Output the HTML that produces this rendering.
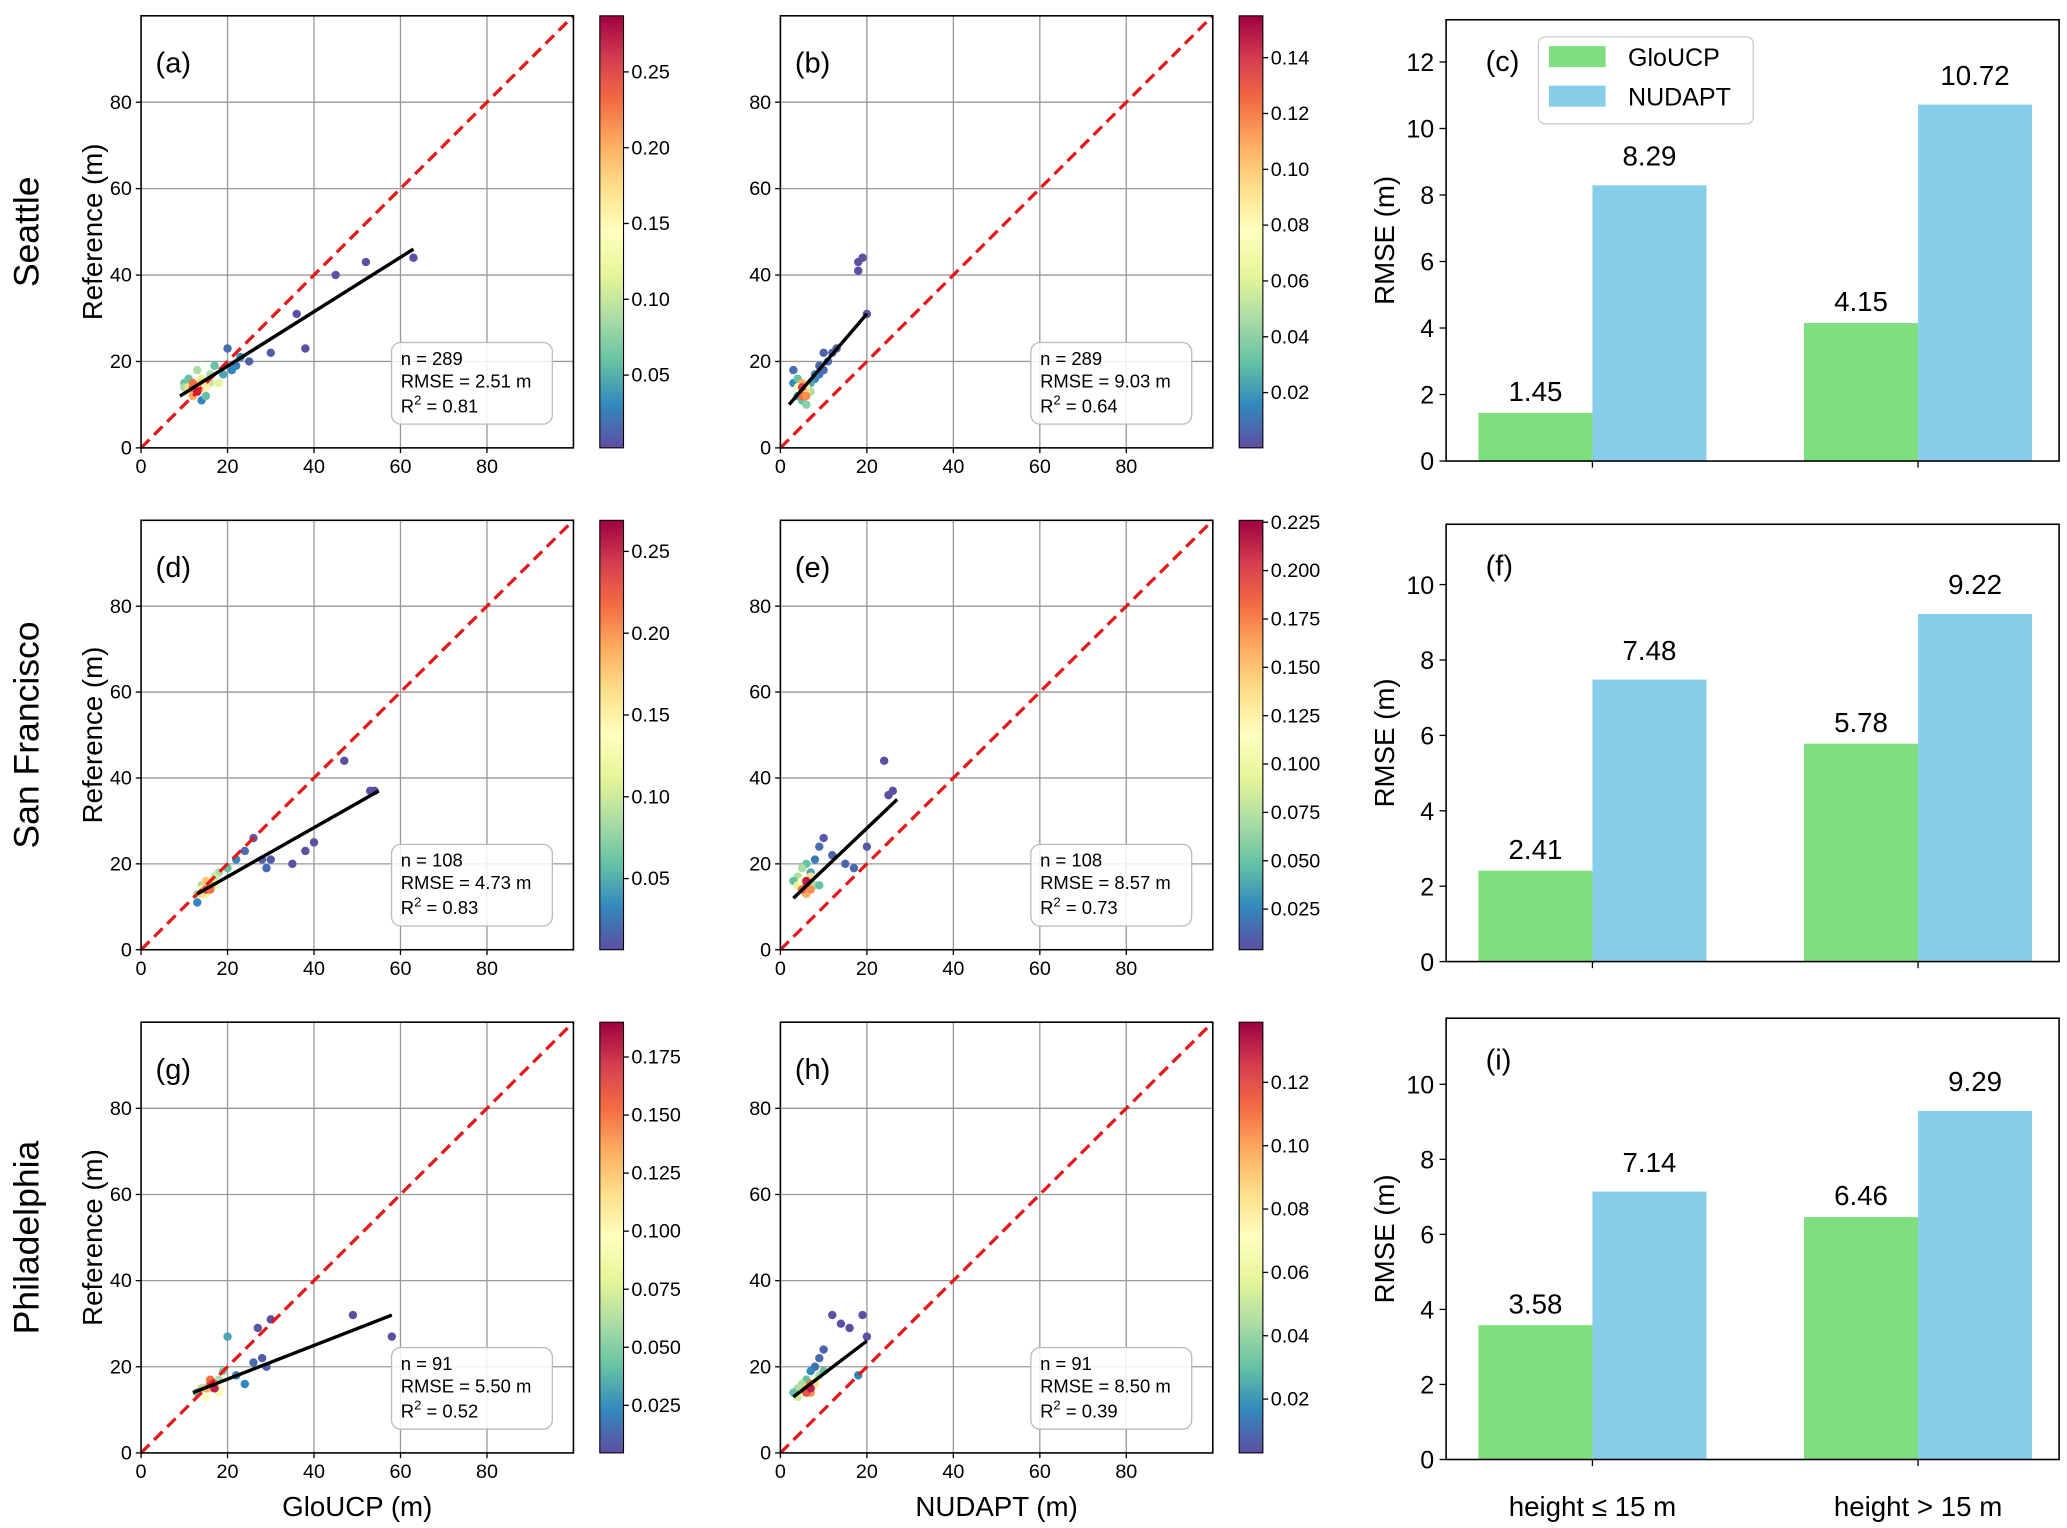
<!DOCTYPE html>
<html><head><meta charset="utf-8"><style>
html,body{margin:0;padding:0;background:#fff}
svg{display:block;font-family:"Liberation Sans",Arial,sans-serif}
</style></head><body>
<svg id="fig" xmlns="http://www.w3.org/2000/svg" width="2067" height="1528" viewBox="0 0 1568 1160" preserveAspectRatio="none">
<defs>
<linearGradient id="spec" x1="0" y1="1" x2="0" y2="0">
<stop offset="0" stop-color="#5e4fa2"/><stop offset="0.1" stop-color="#3288bd"/><stop offset="0.2" stop-color="#66c2a5"/><stop offset="0.3" stop-color="#abdda4"/><stop offset="0.4" stop-color="#e6f598"/><stop offset="0.5" stop-color="#ffffbf"/><stop offset="0.6" stop-color="#fee08b"/><stop offset="0.7" stop-color="#fdae61"/><stop offset="0.8" stop-color="#f46d43"/><stop offset="0.9" stop-color="#d53e4f"/><stop offset="1" stop-color="#9e0142"/>
</linearGradient>
</defs>
</svg>
<script>
// ---- data ----
const panelLabels = ['(a)','(b)','(d)','(e)','(g)','(h)'];
const cityNames = ['Seattle','San Francisco','Philadelphia'];
const statN = [289,289,108,108,91,91];
const statRMSE = ['2.51','9.03','4.73','8.57','5.50','8.50'];
const statR2 = ['0.81','0.64','0.83','0.73','0.52','0.39'];
const fitStart = [[9,12],[2,10],[13,13],[3,12],[12,14],[3,13]];
const fitEnd = [[63,46],[20,31],[55,37],[27,35],[58,32],[20,26]];
const cbMin = [0.002,0.0002,0.0065,0.004,0.0045,0.003];
const cbMax = [0.287,0.155,0.269,0.226,0.19,0.139];
const cbTicks = [[0.05,0.10,0.15,0.20,0.25],[0.02,0.04,0.06,0.08,0.10,0.12,0.14],[0.05,0.10,0.15,0.20,0.25],[0.025,0.050,0.075,0.100,0.125,0.150,0.175,0.200,0.225],[0.025,0.050,0.075,0.100,0.125,0.150,0.175],[0.02,0.04,0.06,0.08,0.10,0.12]];
const cbDigits = [2,2,2,3,3,2];
// scatter points (x, y, relative density 0..1)
const ptsX = [
 [38,36,45,52,63,30,25,22,20,19,17,16,14,15,11,10,13,18,21,23,10,11,12,13,14,15,16,12,13,14,11,12,13,12,14,13,15,12],
 [19,18,18,20,13,12,11,10,9,8,7,6,5,4,3,3,4,5,6,7,8,9,10,5,6,4,5,6,5,4,6,5],
 [47,54,53,40,38,35,30,28,26,29,24,22,20,18,17,16,14,13,15,13,14,15,16,17,15,16,14,15,16,15],
 [24,26,25,20,17,15,12,10,9,8,7,6,5,4,3,4,5,6,7,8,9,6,7,5,6,7,6,5],
 [49,58,30,29,26,24,22,28,27,20,19,18,16,14,13,15,17,16,18,15,17,16,18,17,16,15,17],
 [12,14,16,19,20,18,10,9,8,7,6,5,4,3,4,5,6,7,8,9,10,6,7,8,7,6,7]];
const ptsY = [
 [23,31,40,43,44,22,20,19,23,17,19,17,11,12,16,15,18,15,18,21,14,13,12,15,16,14,15,13,14,14,14,14,13,12,15,13,14,15],
 [44,43,41,31,23,22,20,18,17,16,15,14,13,12,15,18,16,11,10,13,17,19,22,13,14,14,15,13,12,14,12,14],
 [44,37,37,25,23,20,21,21,26,19,23,21,19,18,17,16,15,11,13,13,14,15,16,15,14,15,13,14,14,16],
 [44,37,36,24,19,20,22,26,24,21,18,20,19,17,16,15,16,14,16,15,15,13,17,14,15,14,16,14],
 [32,27,31,20,21,16,18,22,29,27,19,17,16,15,14,13,16,15,14,15,16,17,15,15,16,15,15],
 [32,30,29,32,27,18,24,22,20,19,17,16,15,14,13,14,15,16,17,18,19,15,16,16,14,14,15]];
const ptsD = [
 [0,0,0,0,0,0.02,0.03,0.08,0.05,0.15,0.2,0.3,0.1,0.2,0.2,0.2,0.3,0.4,0.1,0.1,0.3,0.5,0.6,0.5,0.4,0.45,0.35,0.7,0.8,0.75,0.6,0.85,0.9,0.7,0.65,0.95,0.55,0.8],
 [0,0,0,0,0.02,0.03,0.05,0.05,0.06,0.1,0.15,0.1,0.2,0.15,0.1,0.05,0.2,0.2,0.25,0.3,0.1,0.05,0.03,0.5,0.55,0.4,0.7,0.6,0.8,0.5,0.75,0.9],
 [0,0,0,0,0,0,0.02,0.03,0.02,0.05,0.05,0.1,0.2,0.3,0.35,0.4,0.3,0.1,0.4,0.3,0.5,0.6,0.55,0.4,0.75,0.7,0.6,0.85,0.8,0.65],
 [0,0,0,0.02,0.05,0.04,0.03,0.02,0.05,0.08,0.15,0.2,0.3,0.3,0.2,0.4,0.5,0.5,0.4,0.3,0.2,0.7,0.6,0.7,0.85,0.75,0.95,0.8],
 [0,0,0,0.03,0.05,0.1,0.08,0.02,0.02,0.15,0.25,0.3,0.4,0.3,0.2,0.5,0.55,0.65,0.45,0.6,0.75,0.8,0.5,0.9,0.85,0.7,0.95],
 [0,0,0,0,0,0.1,0.03,0.05,0.05,0.1,0.2,0.3,0.3,0.2,0.35,0.45,0.5,0.55,0.5,0.3,0.2,0.7,0.8,0.6,0.75,0.85,0.95]];
// bar charts
const barCats = ['height ≤ 15 m','height > 15 m'];
const barGlo = [[1.45,4.15],[2.41,5.78],[3.58,6.46]];
const barNud = [[8.29,10.72],[7.48,9.22],[7.14,9.29]];
const barYMax = [13.27,11.6,11.76];
const barYTicks = [[0,2,4,6,8,10,12],[0,2,4,6,8,10],[0,2,4,6,8,10]];
const barLabels = ['(c)','(f)','(i)'];
const scatterTicks = [0,20,40,60,80];

// ---- drawing ----
const svg = document.getElementById('fig');
const NS = 'http://www.w3.org/2000/svg';
function mk(tag, attrs, parent, text){
  const e = document.createElementNS(NS, tag);
  for (const k in attrs) e.setAttribute(k, attrs[k]);
  if (text !== undefined) e.textContent = text;
  (parent||svg).appendChild(e); return e;
}
const stops=[[0,[94,79,162]],[0.1,[50,136,189]],[0.2,[102,194,165]],[0.3,[171,221,164]],[0.4,[230,245,152]],[0.5,[255,255,191]],[0.6,[254,224,139]],[0.7,[253,174,97]],[0.8,[244,109,67]],[0.9,[213,62,79]],[1,[158,1,66]]];
function cmap(t){t=Math.max(0,Math.min(1,t));for(let i=1;i<stops.length;i++){if(t<=stops[i][0]){const a=stops[i-1],b=stops[i];const f=(t-a[0])/(b[0]-a[0]);return 'rgb('+a[1].map((v,j)=>Math.round(v+(b[1][j]-v)*f)).join(',')+')';}}return 'rgb(158,1,66)';}

const rowTop=[12,395,776], rowBot=[340,721,1103];
const colLeft=[107,592], colW=328, cbX=[455,940];

for (let r=0;r<3;r++){
  const cy=(rowTop[r]+rowBot[r])/2;
  const cl = mk('text',{x:0,y:0,transform:`translate(22,${cy}) rotate(-90)`,'text-anchor':'middle','dominant-baseline':'middle','font-size':27});
  cl.textContent = cityNames[r];
  
  
  for (let c=0;c<2;c++){
    const p=r*2+c;
    const L=colLeft[c], T=rowTop[r], B=rowBot[r], R=L+colW;
    const g = mk('g',{});
    
    
    const sx=v=>L+v/100*colW, sy=v=>B-v/100*(B-T);
    mk('rect',{x:L,y:T,width:colW,height:B-T,fill:'#fff'},g);
    for (const t of scatterTicks){
      if(t>0){
        mk('line',{x1:sx(t),x2:sx(t),y1:T,y2:B,stroke:'#999','stroke-width':1},g);
        mk('line',{x1:L,x2:R,y1:sy(t),y2:sy(t),stroke:'#999','stroke-width':1},g);
      }
      mk('line',{x1:sx(t),x2:sx(t),y1:B,y2:B+4,stroke:'#000'},g);
      mk('line',{x1:L-4,x2:L,y1:sy(t),y2:sy(t),stroke:'#000'},g);
      const xt=mk('text',{x:sx(t),y:B+19,'text-anchor':'middle','font-size':15},g,String(t));
      
      
      const yt=mk('text',{x:L-7,y:sy(t)+5,'text-anchor':'end','font-size':15},g,String(t));
      
      
    }
    for (let i=0;i<ptsX[p].length;i++){
      const pt=mk('circle',{cx:sx(ptsX[p][i]),cy:sy(ptsY[p][i]),r:3.2,fill:cmap(ptsD[p][i])},g);
      
      
    }
    const one=mk('line',{x1:sx(0),y1:sy(0),x2:sx(100),y2:sy(100),stroke:'#e31a1c','stroke-width':2.5,'stroke-dasharray':'9,5'},g);
    
    
    const fl=mk('line',{x1:sx(fitStart[p][0]),y1:sy(fitStart[p][1]),x2:sx(fitEnd[p][0]),y2:sy(fitEnd[p][1]),stroke:'#000','stroke-width':2.6},g);
    
    
    mk('rect',{x:L,y:T,width:colW,height:B-T,fill:'none',stroke:'#000','stroke-width':1.2},g);
    const pl=mk('text',{x:L+11,y:T+43,'font-size':22},g,panelLabels[p]);
    
    
    const bx=L+190, by=B-80;
    const sb=mk('g',{},g);
    
    
    mk('rect',{x:bx,y:by,width:122,height:62,rx:7,fill:'#fff','fill-opacity':0.85,stroke:'#bbb'},sb);
    mk('text',{x:bx+7,y:by+17,'font-size':14},sb,'n = '+statN[p]);
    mk('text',{x:bx+7,y:by+34,'font-size':14},sb,'RMSE = '+statRMSE[p]+' m');
    const t3=mk('text',{x:bx+7,y:by+53,'font-size':14},sb);
    t3.innerHTML='R<tspan dy="-6" font-size="10">2</tspan><tspan dy="6"> = '+statR2[p]+'</tspan>';
    const cb=mk('g',{},g);
    
    
    const X=cbX[c];
    mk('rect',{x:X,y:T,width:18,height:B-T,fill:'url(#spec)',stroke:'#000','stroke-width':0.8},cb);
    for (const t of cbTicks[p]){
      const y=B-(t-cbMin[p])/(cbMax[p]-cbMin[p])*(B-T);
      mk('line',{x1:X+18,x2:X+22,y1:y,y2:y,stroke:'#000'},cb);
      mk('text',{x:X+24,y:y+5,'font-size':15},cb,t.toFixed(cbDigits[p]));
    }
    if (c===0){
      const yl=mk('text',{x:0,y:0,transform:`translate(72,${(T+B)/2}) rotate(-90)`,'text-anchor':'middle','dominant-baseline':'middle','font-size':21},g,'Reference (m)');
      
      
    }
  }
}
const xl1=mk('text',{x:271,y:1151,'text-anchor':'middle','font-size':21},svg,'GloUCP (m)');


const xl2=mk('text',{x:756,y:1151,'text-anchor':'middle','font-size':21},svg,'NUDAPT (m)');



const bTop=[15,398,773], bBot=[350,730,1108], bL=1097, bR=1562, catC=[1208,1455], bw=86.5;
for (let r=0;r<3;r++){
  const T=bTop[r], B=bBot[r];
  const g=mk('g',{});
  
  
  const sy=v=>B-v/barYMax[r]*(B-T);
  for (let i=0;i<2;i++){
    const gb=mk('rect',{x:catC[i]-bw,y:sy(barGlo[r][i]),width:bw,height:B-sy(barGlo[r][i]),fill:'#7fdf7f'},g);
    
    
    const nb=mk('rect',{x:catC[i],y:sy(barNud[r][i]),width:bw,height:B-sy(barNud[r][i]),fill:'#87ceeb'},g);
    
    
    mk('text',{x:catC[i]-bw/2,y:sy(barGlo[r][i])-9,'text-anchor':'middle','font-size':21},g,barGlo[r][i].toFixed(2));
    mk('text',{x:catC[i]+bw/2,y:sy(barNud[r][i])-15,'text-anchor':'middle','font-size':21},g,barNud[r][i].toFixed(2));
    mk('line',{x1:catC[i],x2:catC[i],y1:B,y2:B+5,stroke:'#000'},g);
  }
  for (const t of barYTicks[r]){
    mk('line',{x1:bL-5,x2:bL,y1:sy(t),y2:sy(t),stroke:'#000'},g);
    mk('text',{x:bL-9,y:sy(t)+7,'text-anchor':'end','font-size':19},g,String(t));
  }
  mk('rect',{x:bL,y:T,width:bR-bL,height:B-T,fill:'none',stroke:'#000','stroke-width':1.2},g);
  mk('text',{x:bL+30,y:T+39,'font-size':22},g,barLabels[r]);
  const yl=mk('text',{x:0,y:0,transform:`translate(1052,${(T+B)/2}) rotate(-90)`,'text-anchor':'middle','dominant-baseline':'middle','font-size':21},g,'RMSE (m)');
  
  
}
for (let i=0;i<2;i++){
  const cl=mk('text',{x:catC[i],y:1151,'text-anchor':'middle','font-size':21},svg,barCats[i]);
  
  
}
const lg=mk('g',{});


mk('rect',{x:1167,y:28,width:163,height:66,rx:5,fill:'#fff',stroke:'#ccc'},lg);
mk('rect',{x:1175,y:35,width:43,height:16,fill:'#7fdf7f'},lg);
mk('text',{x:1235,y:50,'font-size':19},lg,'GloUCP');
mk('rect',{x:1175,y:65,width:43,height:16,fill:'#87ceeb'},lg);
mk('text',{x:1235,y:80,'font-size':19},lg,'NUDAPT');
</script>
</body></html>
